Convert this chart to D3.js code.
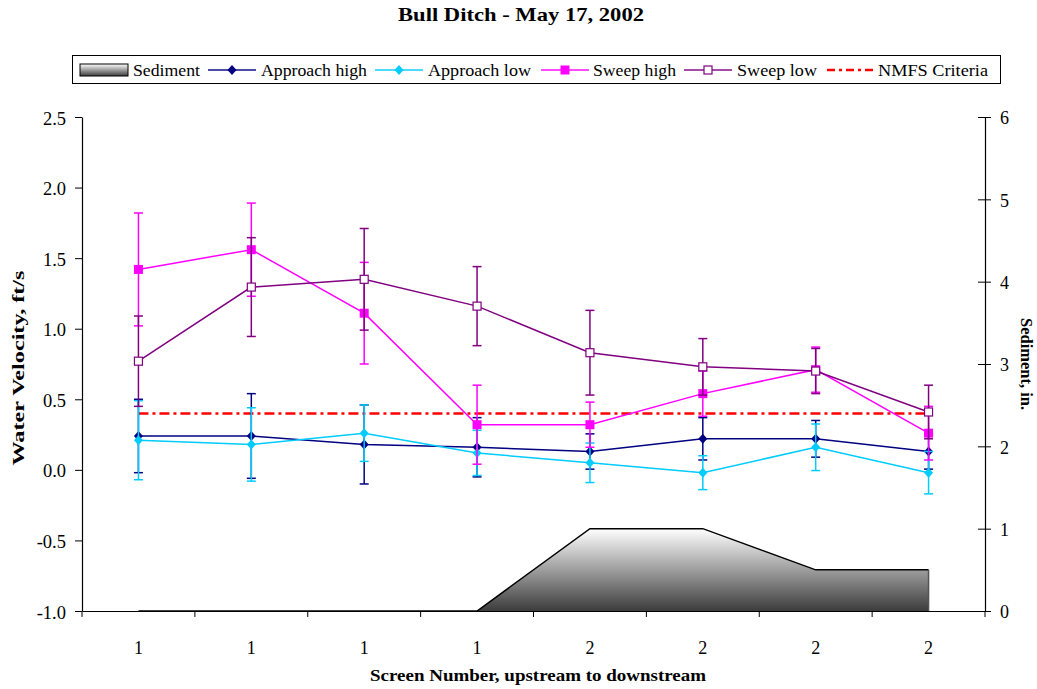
<!DOCTYPE html>
<html><head><meta charset="utf-8">
<script src="https://cdn.jsdelivr.net/npm/d3@7"></script>
<style>body{margin:0;background:#fff}svg{display:block}text{font-family:"Liberation Serif","Times New Roman",serif}</style>
</head><body><svg id="c" width="1037" height="689"></svg>
<script>
const categories = ["1","1","1","1","2","2","2","2"];
const approachHigh = [0.24,0.24,0.18,0.16,0.13,0.22,0.22,0.13];
const approachHighErr = [0.26,0.30,0.28,0.21,0.125,0.15,0.13,0.125];
const approachLow = [0.21,0.18,0.26,0.12,0.05,-0.02,0.16,-0.02];
const approachLowErr = [0.28,0.26,0.20,0.16,0.14,0.12,0.165,0.15];
const sweepHigh = [1.42,1.56,1.11,0.32,0.32,0.54,0.71,0.26];
const sweepHighErr = [0.40,0.33,0.36,0.28,0.16,0.16,0.16,0.19];
const sweepLow = [0.77,1.295,1.35,1.16,0.83,0.73,0.70,0.41];
const sweepLowErr = [0.32,0.35,0.36,0.28,0.30,0.20,0.16,0.19];
const sediment = [0,0,0,0,1,1,0.5,0.5];
const nmfs = 0.4;
const leftTicks = [-1.0,-0.5,0.0,0.5,1.0,1.5,2.0,2.5];
const rightTicks = [0,1,2,3,4,5,6];

const svg = d3.select("#c");
const L = 82, R = 985, T = 117, B = 611;
const x = d3.scaleBand().domain(d3.range(categories.length)).range([L, R]);
const cx = i => x(i) + x.bandwidth()/2;
const y = d3.scaleLinear().domain([-1, 2.5]).range([B, T]);
const y2 = d3.scaleLinear().domain([0, 6]).range([B, T]);

const defs = svg.append("defs");
const yTopS = y2(d3.max(sediment));
const g = defs.append("linearGradient").attr("id","sedGrad").attr("gradientUnits","userSpaceOnUse")
  .attr("x1",0).attr("x2",0).attr("y1",yTopS).attr("y2",B);
g.append("stop").attr("offset","0%").attr("stop-color","#ffffff");
g.append("stop").attr("offset","100%").attr("stop-color","#3c3c3c");
const g2 = defs.append("linearGradient").attr("id","sedGradL").attr("x1",0).attr("y1",0).attr("x2",0).attr("y2",1);
g2.append("stop").attr("offset","0%").attr("stop-color","#ffffff");
g2.append("stop").attr("offset","100%").attr("stop-color","#3c3c3c");

// title
svg.append("text").attr("x",521).attr("y",21).attr("text-anchor","middle")
  .attr("font-size",19.5).attr("font-weight","bold")
  .attr("textLength",246).attr("lengthAdjust","spacingAndGlyphs").text("Bull Ditch - May 17, 2002");

// sediment area
const sedG = svg.append("g");
const areaGen = d3.area().x((d,i)=>cx(i)).y0(B).y1(d=>y2(d));
sedG.append("path").attr("d", areaGen(sediment)).attr("fill","url(#sedGrad)").attr("stroke","none");
sedG.append("path").attr("d", d3.line().x((d,i)=>cx(i)).y(d=>y2(d))(sediment))
  .attr("fill","none").attr("stroke","#000").attr("stroke-width",1.5);
const last = sediment.length-1;
sedG.append("line").attr("x1",cx(last)).attr("x2",cx(last)).attr("y1",y2(sediment[last])).attr("y2",B)
  .attr("stroke","#555").attr("stroke-width",1.5);

// axes
const xAxis = d3.axisBottom(x).tickSize(0).tickFormat(i=>categories[i]);
const axB = svg.append("g").attr("transform",`translate(0,${B})`).call(xAxis);
axB.select(".domain").attr("stroke","#000").attr("stroke-width",1.2);
axB.selectAll("text").attr("font-size",18).attr("y",43).attr("dy",0).attr("fill","#000");
svg.append("g").selectAll("line").data(d3.range(categories.length+1)).join("line")
  .attr("x1",i=>L+i*x.bandwidth()).attr("x2",i=>L+i*x.bandwidth()).attr("y1",B).attr("y2",B+6)
  .attr("stroke","#000");

const fmtL = d => d3.format(".1f")(d).replace("\u2212","-");
const axL = svg.append("g").attr("transform",`translate(${L},0)`)
  .call(d3.axisLeft(y).tickValues(leftTicks).tickSize(7).tickSizeOuter(0).tickFormat(fmtL));
axL.selectAll("text").attr("font-size",18.5).attr("fill","#000").attr("x",-16).attr("dy","0.38em");
axL.select(".domain").attr("stroke-width",1.2);

const axR = svg.append("g").attr("transform",`translate(${R},0)`)
  .call(d3.axisRight(y2).tickValues(rightTicks).tickSize(6).tickSizeOuter(0).tickFormat(d3.format("d")));
axR.selectAll(".tick line").attr("x1",-7);
axR.selectAll("text").attr("font-size",18).attr("fill","#000").attr("x",15).attr("dy","0.38em");
axR.select(".domain").attr("stroke-width",1.2);

// axis titles
svg.append("text").attr("transform",`translate(24,368) rotate(-90)`).attr("text-anchor","middle")
  .attr("font-size",17).attr("font-weight","bold")
  .attr("textLength",195).attr("lengthAdjust","spacingAndGlyphs").text("Water Velocity, ft/s");
svg.append("text").attr("transform",`translate(1021,364) rotate(90)`).attr("text-anchor","middle")
  .attr("font-size",16.5).attr("font-weight","bold")
  .attr("textLength",92).attr("lengthAdjust","spacingAndGlyphs").text("Sediment, in.");
svg.append("text").attr("x",538).attr("y",681).attr("text-anchor","middle")
  .attr("font-size",16.5).attr("font-weight","bold")
  .attr("textLength",336).attr("lengthAdjust","spacingAndGlyphs").text("Screen Number, upstream to downstream");

// NMFS line
svg.append("line").attr("x1",cx(0)).attr("x2",cx(last)).attr("y1",y(nmfs)).attr("y2",y(nmfs))
  .attr("stroke","#ff0000").attr("stroke-width",2.5).attr("stroke-dasharray","10,4,3,4");

const series = [
  {name:"Approach high", vals:approachHigh, err:approachHighErr, color:"#000080", marker:"diamond"},
  {name:"Approach low", vals:approachLow, err:approachLowErr, color:"#00ccff", marker:"diamond"},
  {name:"Sweep high", vals:sweepHigh, err:sweepHighErr, color:"#ff00ff", marker:"square"},
  {name:"Sweep low", vals:sweepLow, err:sweepLowErr, color:"#800080", marker:"open"}
];

function drawMarker(sel, s, px, py){
  if (s.marker==="diamond"){
    sel.append("path").attr("d",`M${px},${py-5}L${px+4.5},${py}L${px},${py+5}L${px-4.5},${py}Z`).attr("fill",s.color);
  } else if (s.marker==="square"){
    sel.append("rect").attr("x",px-4.5).attr("y",py-4.5).attr("width",9).attr("height",9).attr("fill",s.color);
  } else {
    sel.append("rect").attr("x",px-4).attr("y",py-4).attr("width",8).attr("height",8).attr("fill","#fff").attr("stroke",s.color).attr("stroke-width",1.2);
  }
}

series.forEach(s=>{
  const gg = svg.append("g");
  s.vals.forEach((v,i)=>{
    const px = cx(i), e = s.err[i];
    gg.append("line").attr("x1",px).attr("x2",px).attr("y1",y(v+e)).attr("y2",y(v-e)).attr("stroke",s.color).attr("stroke-width",1.5);
    [v+e, v-e].forEach(t=>gg.append("line").attr("x1",px-4.5).attr("x2",px+4.5).attr("y1",y(t)).attr("y2",y(t)).attr("stroke",s.color).attr("stroke-width",1.5));
  });
  gg.append("path").attr("d", d3.line().x((d,i)=>cx(i)).y(d=>y(d))(s.vals))
    .attr("fill","none").attr("stroke",s.color).attr("stroke-width",1.5);
  s.vals.forEach((v,i)=>drawMarker(gg, s, cx(i), y(v)));
});

// legend
const lg = svg.append("g");
lg.append("rect").attr("x",72.5).attr("y",55.5).attr("width",928).attr("height",28).attr("fill","#fff").attr("stroke","#000").attr("stroke-width",1);
const ly = 70;
const ty = ly + 6;
lg.append("rect").attr("x",80).attr("y",ly-6).attr("width",48).attr("height",12).attr("fill","url(#sedGradL)").attr("stroke","#000");
lg.append("text").attr("x",133).attr("y",ty).attr("font-size",17)
  .attr("textLength",67).attr("lengthAdjust","spacingAndGlyphs").text("Sediment");
const legItems = [
  {s:series[0], x1:208, tx:261, w:106},
  {s:series[1], x1:375, tx:428, w:103},
  {s:series[2], x1:541, tx:593, w:83},
  {s:series[3], x1:684, tx:737, w:80}
];
legItems.forEach(it=>{
  lg.append("line").attr("x1",it.x1).attr("x2",it.x1+48).attr("y1",ly).attr("y2",ly).attr("stroke",it.s.color).attr("stroke-width",2).attr("stroke-opacity",0.7);
  drawMarker(lg, it.s, it.x1+24, ly);
  lg.append("text").attr("x",it.tx).attr("y",ty).attr("font-size",17)
    .attr("textLength",it.w).attr("lengthAdjust","spacingAndGlyphs").text(it.s.name);
});
lg.append("line").attr("x1",827).attr("x2",874).attr("y1",ly).attr("y2",ly).attr("stroke","#ff0000").attr("stroke-width",2.5).attr("stroke-dasharray","8,4,3,4");
lg.append("text").attr("x",878).attr("y",ty).attr("font-size",17)
  .attr("textLength",110).attr("lengthAdjust","spacingAndGlyphs").text("NMFS Criteria");
</script></body></html>
